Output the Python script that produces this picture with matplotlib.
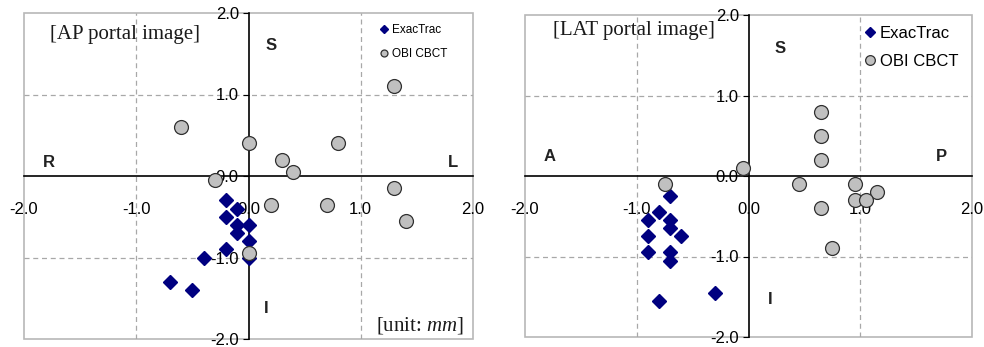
import matplotlib
matplotlib.use("Agg")
import matplotlib.pyplot as plt
from matplotlib.patches import Rectangle

plt.rcParams['font.family'] = ['Liberation Sans', 'DejaVu Sans']
plt.rcParams['mathtext.fontset'] = 'custom'
plt.rcParams['mathtext.rm'] = 'Liberation Serif'
plt.rcParams['mathtext.it'] = 'Liberation Serif:italic'

# --- data (mm) ---
ap_exac_x = [-0.2, -0.1, -0.2, -0.1, 0.0, -0.1, 0.0, -0.2, -0.4, 0.0, -0.7, -0.5]
ap_exac_y = [-0.3, -0.4, -0.5, -0.6, -0.6, -0.7, -0.8, -0.9, -1.0, -1.0, -1.3, -1.4]
ap_obi_x = [1.3, -0.6, 0.0, 0.8, 0.3, 0.4, -0.3, 1.3, 0.2, 0.7, 1.4, 0.0]
ap_obi_y = [1.1, 0.6, 0.4, 0.4, 0.2, 0.05, -0.05, -0.15, -0.35, -0.35, -0.55, -0.95]

lat_exac_x = [-0.7, -0.8, -0.9, -0.7, -0.7, -0.9, -0.6, -0.9, -0.7, -0.7, -0.3, -0.8]
lat_exac_y = [-0.25, -0.45, -0.55, -0.55, -0.65, -0.75, -0.75, -0.95, -0.95, -1.05, -1.45, -1.55]
lat_obi_x = [0.65, 0.65, 0.65, -0.05, -0.75, 0.45, 0.95, 1.15, 0.95, 1.05, 0.65, 0.75]
lat_obi_y = [0.8, 0.5, 0.2, 0.1, -0.1, -0.1, -0.1, -0.2, -0.3, -0.3, -0.4, -0.9]

ticks = [-2.0, -1.0, 0.0, 1.0, 2.0]
tick_labels = ['-2.0', '-1.0', '0.0', '1.0', '2.0']

NAVY = '#000080'
GRAY_FILL = '#c0c0c0'


def draw_panel(ax, ex_x, ex_y, obi_x, obi_y, title, dirs, leg):
    ax.set_xlim(-2, 2)
    ax.set_ylim(-2, 2)

    # spines through the origin, light frame around the plot area
    for side in ['top', 'right']:
        ax.spines[side].set_visible(False)
    ax.spines['left'].set_position(('data', 0))
    ax.spines['bottom'].set_position(('data', 0))
    ax.spines['left'].set_linewidth(1.2)
    ax.spines['bottom'].set_linewidth(1.2)
    ax.add_patch(Rectangle((0, 0), 1, 1, transform=ax.transAxes, fill=False,
                           edgecolor='#b8b8b8', linewidth=1.2, zorder=0,
                           clip_on=False))

    ax.set_xticks(ticks)
    ax.set_xticklabels(tick_labels)
    ax.set_yticks(ticks)
    ax.set_yticklabels(tick_labels)
    ax.tick_params(axis='x', length=0, pad=19, labelsize=12)
    ax.tick_params(axis='y', length=4, direction='out', pad=3, labelsize=12)

    for v in [-1, 1]:
        ax.axhline(v, color='#a8a8a8', linestyle=(0, (4, 3)), linewidth=0.9, zorder=0)
        ax.axvline(v, color='#a8a8a8', linestyle=(0, (4, 3)), linewidth=0.9, zorder=0)

    ax.plot(ex_x, ex_y, linestyle='none', marker='D', markersize=7.5,
            color=NAVY, label='ExacTrac', zorder=4, clip_on=False)
    ax.plot(obi_x, obi_y, linestyle='none', marker='o', markersize=10,
            markerfacecolor=GRAY_FILL, markeredgecolor='#303030',
            markeredgewidth=0.9, label='OBI CBCT', zorder=5, clip_on=False)

    ax.text(title[1], title[2], title[0], family='Liberation Serif', fontsize=15,
            color='#1a1a1a', ha='left', va='center')
    for lab, x, y in dirs:
        ax.text(x, y, lab, fontsize=12, fontweight='bold', color='#222222',
                ha='center', va='center')

    size, mscale, anchor, spacing = leg
    ax.legend(loc='upper left', bbox_to_anchor=anchor, frameon=False,
              fontsize=size, markerscale=mscale, handlelength=0.6,
              handletextpad=0.3, borderaxespad=0, borderpad=0,
              labelspacing=spacing)


fig = plt.figure(figsize=(9.84, 3.47), dpi=100)
ax1 = fig.add_axes([24 / 984, 8 / 347, 449 / 984, 326 / 347])
ax2 = fig.add_axes([525 / 984, 10 / 347, 447 / 984, 322 / 347])

draw_panel(ax1, ap_exac_x, ap_exac_y, ap_obi_x, ap_obi_y,
           ('[AP portal image]', -1.77, 1.74),
           [('S', 0.2, 1.6), ('R', -1.78, 0.16), ('L', 1.82, 0.16), ('I', 0.16, -1.62)],
           (8.5, 0.5, (0.795, 0.965), 1.0))
ax1.text(1.92, -1.83, r'[unit: $\mathit{mm}$]', family='Liberation Serif',
         fontsize=15, color='#1a1a1a', ha='right', va='center')

draw_panel(ax2, lat_exac_x, lat_exac_y, lat_obi_x, lat_obi_y,
           ('[LAT portal image]', -1.75, 1.81),
           [('S', 0.28, 1.59), ('A', -1.78, 0.24), ('P', 1.73, 0.24), ('I', 0.19, -1.54)],
           (12, 0.7, (0.76, 0.965), 0.75))

fig.savefig('out.png', dpi=100)
